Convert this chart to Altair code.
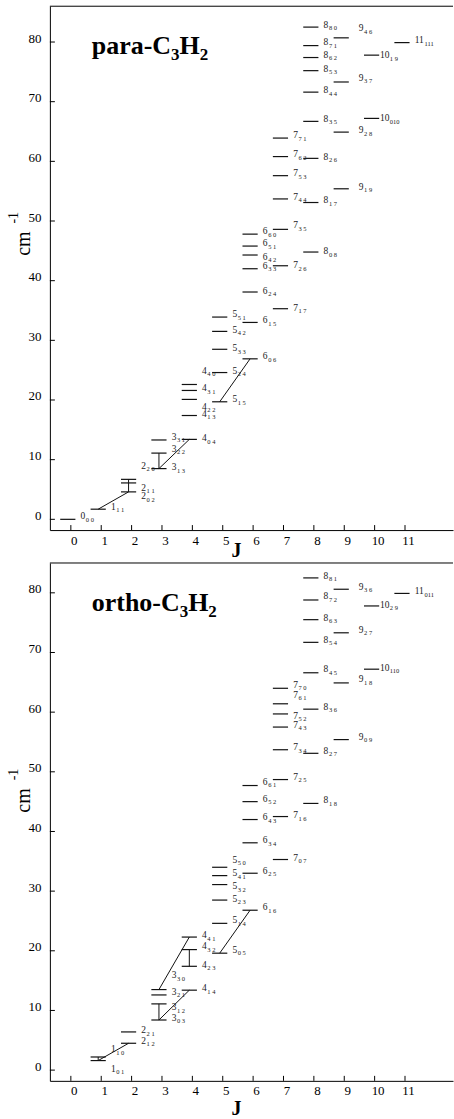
import altair as alt
import pandas as pd

# ---------------- data ----------------
# para-C3H2 levels: J, Ka, Kc, energy (cm-1), label anchor energy
PARA_J = [0, 1, 2, 2, 2, 3, 3, 3, 4, 4, 4, 4, 4, 5, 5, 5, 5, 5,
          6, 6, 6, 6, 6, 6, 6, 7, 7, 7, 7, 7, 7, 7,
          8, 8, 8, 8, 8, 8, 8, 8, 8, 9, 9, 9, 9, 10, 10, 11]
PARA_KA = [0, 1, 0, 1, 2, 1, 2, 3, 0, 1, 2, 3, 4, 1, 2, 3, 4, 5,
           0, 1, 2, 3, 4, 5, 6, 1, 2, 3, 4, 5, 6, 7,
           0, 1, 2, 3, 4, 5, 6, 7, 8, 1, 2, 3, 4, 0, 1, 1]
PARA_KC = [0, 1, 2, 1, 0, 3, 2, 1, 4, 3, 2, 1, 0, 5, 4, 3, 2, 1,
           6, 5, 4, 3, 2, 1, 0, 7, 6, 5, 4, 3, 2, 1,
           8, 7, 6, 5, 4, 3, 2, 1, 0, 9, 8, 7, 6, 10, 9, 11]
PARA_E = [0.0, 1.7, 4.6, 6.1, 6.7, 8.5, 11.1, 13.3,
          13.4, 17.4, 20.1, 21.6, 22.6, 19.7, 24.6, 28.5, 31.5, 33.9,
          26.9, 33.0, 38.1, 42.0, 44.3, 45.8, 47.8,
          35.3, 42.5, 48.6, 53.7, 57.6, 60.8, 63.9,
          44.8, 53.1, 60.5, 66.7, 71.6, 75.2, 77.4, 79.4, 82.5,
          55.4, 64.9, 73.3, 80.7, 67.2, 77.8, 79.9]
PARA_LABEL_E = [0.55, 2.1, 3.9, 5.3, 9.0, 8.7, 11.8, 13.8,
                13.6, 17.7, 18.9, 22.0, 24.9, 20.1, 24.9, 28.7, 31.8, 34.4,
                27.3, 33.4, 38.3, 42.5, 44.0, 46.3, 48.3,
                35.5, 42.6, 49.3, 54.1, 58.0, 61.2, 64.4,
                44.9, 53.5, 60.8, 67.1, 71.9, 75.5, 77.9, 80.0, 82.9,
                55.7, 65.2, 74.0, 82.3, 67.2, 77.8, 80.3]
PARA_LINK_FROM = ["1_11", "2_02", "2_11", "3_13", "3_13", "5_15"]
PARA_LINK_TO = ["2_02", "2_11", "2_20", "3_22", "4_04", "6_06"]

# ortho-C3H2 levels
ORTHO_J = [1, 1, 2, 2, 3, 3, 3, 3, 4, 4, 4, 4, 5, 5, 5, 5, 5, 5,
           6, 6, 6, 6, 6, 6, 7, 7, 7, 7, 7, 7, 7, 7,
           8, 8, 8, 8, 8, 8, 8, 8, 9, 9, 9, 9, 10, 10, 11]
ORTHO_KA = [0, 1, 1, 2, 0, 1, 2, 3, 1, 2, 3, 4, 0, 1, 2, 3, 4, 5,
            1, 2, 3, 4, 5, 6, 0, 1, 2, 3, 4, 5, 6, 7,
            1, 2, 3, 4, 5, 6, 7, 8, 0, 1, 2, 3, 1, 2, 0]
ORTHO_KC = [1, 0, 2, 1, 3, 2, 1, 0, 4, 3, 2, 1, 5, 4, 3, 2, 1, 0,
            6, 5, 4, 3, 2, 1, 7, 6, 5, 4, 3, 2, 1, 0,
            8, 7, 6, 5, 4, 3, 2, 1, 9, 8, 7, 6, 10, 9, 11]
ORTHO_E = [1.6, 2.2, 4.5, 6.4, 8.4, 11.1, 12.6, 13.5,
           13.4, 17.4, 20.2, 22.3, 19.6, 24.6, 28.5, 31.1, 32.6, 34.0,
           26.8, 33.0, 38.1, 42.0, 45.0, 47.7,
           35.3, 42.5, 48.7, 53.7, 57.5, 59.7, 61.4, 64.0,
           44.7, 53.1, 60.5, 66.6, 71.7, 75.5, 78.8, 82.5,
           55.4, 64.9, 73.3, 80.6, 67.2, 77.8, 79.9]
ORTHO_LABEL_E = [0.2, 3.5, 4.9, 6.7, 8.8, 10.5, 13.1, 15.9,
                 13.7, 17.7, 20.8, 22.6, 20.2, 25.1, 28.7, 30.8, 33.0, 35.3,
                 27.3, 33.4, 38.5, 42.4, 45.5, 48.3,
                 35.6, 42.7, 49.2, 54.1, 57.9, 59.4, 62.9, 64.6,
                 45.2, 53.5, 60.9, 67.2, 72.1, 75.8, 79.4, 82.9,
                 55.9, 65.5, 73.8, 81.0, 67.4, 78.0, 80.3]
ORTHO_LINK_FROM = ["1_01", "1_01", "3_03", "3_03", "3_30", "4_23", "5_05"]
ORTHO_LINK_TO = ["1_10", "2_12", "3_12", "4_14", "4_41", "4_32", "6_16"]

X_TICKS = list(range(12))
Y_TICKS = [0, 10, 20, 30, 40, 50, 60, 70, 80]

# ---------------- styling ----------------
W = 404
XDOM = [-0.69, 12.58]
SERIF = "Liberation Serif"
INK = "#111111"

# Times-compatible bold advance widths (em) for composing the panel title
BOLD_W = {"p": .556, "a": .5, "r": .444, "-": .333, "C": .722, "o": .5,
          "t": .333, "h": .556, "H": .778, "3": .5, "2": .5}


def text_piece(s, x, y, size, bold=False, angle=0, align="left",
               baseline="alphabetic"):
    kw = dict(text=s, font=SERIF, fontSize=size, align=align,
              baseline=baseline, color="black")
    if bold:
        kw["fontWeight"] = "bold"
    if angle:
        kw["angle"] = angle
    return alt.Chart(pd.DataFrame({"d": [0]})).mark_text(**kw).encode(
        x=alt.value(x), y=alt.value(y))


def panel(J, KA, KC, E, LE, lfrom, lto, ydom, H, name, jy):
    lv = pd.DataFrame({"J": J, "Ka": KA, "Kc": KC, "E": E, "LE": LE})
    lv["key"] = [f"{j}_{a}{c}" for j, a, c in zip(J, KA, KC)]
    lv["jtxt"] = [str(j) for j in J]
    lv["sub"] = [f"{a} {c}" if c < 10 else f"{a}{c}" for a, c in zip(KA, KC)]
    lv["x0"] = lv["J"] - 0.35
    lv["x1"] = lv["J"] + 0.15
    lv["lx"] = lv["J"] + lv["J"].map(lambda j: {9: 0.48, 10: 0.18}.get(j, 0.32))

    pos = {k: (j - 0.1, e) for k, j, e in zip(lv["key"], J, E)}
    links = pd.DataFrame({
        "xa": [pos[a][0] for a in lfrom], "ya": [pos[a][1] for a in lfrom],
        "xb": [pos[b][0] for b in lto], "yb": [pos[b][1] for b in lto]})

    xs = alt.Scale(domain=XDOM, nice=False, zero=False)
    ys = alt.Scale(domain=ydom, nice=False, zero=False)
    xax = alt.Axis(values=X_TICKS, ticks=False, tickSize=0, grid=False,
                   title=None, labelFont=SERIF, labelFontSize=13,
                   labelColor="black", labelPadding=4, labelOffset=3,
                   domainColor="black", format="d")
    yax = alt.Axis(values=Y_TICKS, ticks=False, tickSize=0, grid=False,
                   title=None, labelFont=SERIF, labelFontSize=13,
                   labelColor="black", labelPadding=9,
                   labelBaseline="alphabetic", domainColor="black",
                   format="d")

    def X(f):
        return alt.X(f, type="quantitative", scale=xs, axis=xax)

    def Y(f):
        return alt.Y(f, type="quantitative", scale=ys, axis=yax)

    levels = alt.Chart(lv).mark_rule(color=INK, strokeWidth=1.2).encode(
        x=X("x0"), x2="x1", y=Y("E"))
    link_l = alt.Chart(links).mark_rule(color=INK, strokeWidth=1).encode(
        x=X("xa"), x2="xb", y=Y("ya"), y2="yb")
    lab_main = alt.Chart(lv).mark_text(
        font=SERIF, fontSize=9.5, align="left", baseline="middle",
        color="#222222").encode(x=X("lx"), y=Y("LE"), text="jtxt:N")
    lab_sub1 = alt.Chart(lv).transform_filter(
        "length(datum.jtxt) == 1").mark_text(
        font=SERIF, fontSize=6.5, align="left", baseline="middle",
        dx=5.3, dy=3.5, color="#222222").encode(
        x=X("lx"), y=Y("LE"), text="sub:N")
    lab_sub2 = alt.Chart(lv).transform_filter(
        "length(datum.jtxt) == 2").mark_text(
        font=SERIF, fontSize=6.5, align="left", baseline="middle",
        dx=9.8, dy=3.5, color="#222222").encode(
        x=X("lx"), y=Y("LE"), text="sub:N")
    xt = alt.Chart(pd.DataFrame({"t": X_TICKS})).mark_rule(
        color="black").encode(x=X("t"), y=alt.value(H), y2=alt.value(H - 5))
    yt = alt.Chart(pd.DataFrame({"t": Y_TICKS})).mark_rule(
        color="black").encode(y=Y("t"), x=alt.value(0), x2=alt.value(5))
    top = alt.Chart(pd.DataFrame({"d": [0]})).mark_rule(
        color="black").encode(x=alt.value(0), x2=alt.value(W), y=alt.value(0))

    # panel title  name-C3H2 with subscripts
    fs, fss = 26, 17
    x = 42
    pieces = []
    for s, sub in [(name + "-C", False), ("3", True), ("H", False), ("2", True)]:
        size = fss if sub else fs
        pieces.append(text_piece(s, x, 48 + (6 if sub else 0), size, bold=True))
        x += size * sum(BOLD_W[c] for c in s)

    ytitle = [text_piece("cm", -26, 238, 20, angle=270, align="center",
                         baseline="middle"),
              text_piece("-1", -36, 212, 14, angle=270, align="center",
                         baseline="middle")]
    xtitle = text_piece("J", 187, jy, 20, bold=True, align="center")

    return alt.layer(levels, link_l, lab_main, lab_sub1, lab_sub2, xt, yt,
                     top, *pieces, *ytitle, xtitle).properties(
        width=W, height=H)


para = panel(PARA_J, PARA_KA, PARA_KC, PARA_E, PARA_LABEL_E,
             PARA_LINK_FROM, PARA_LINK_TO, [-1.8, 86.0], 525, "para", 552)
ortho = panel(ORTHO_J, ORTHO_KA, ORTHO_KC, ORTHO_E, ORTHO_LABEL_E,
              ORTHO_LINK_FROM, ORTHO_LINK_TO, [-1.8, 85.0], 519, "ortho", 553)

chart = alt.vconcat(para, ortho, spacing=1).properties(
    padding={"left": 7, "top": 4, "right": 0, "bottom": 0},
    background="white",
).configure_view(stroke=None)

chart.save("out.html", embed_options={"renderer": "svg", "actions": False})
